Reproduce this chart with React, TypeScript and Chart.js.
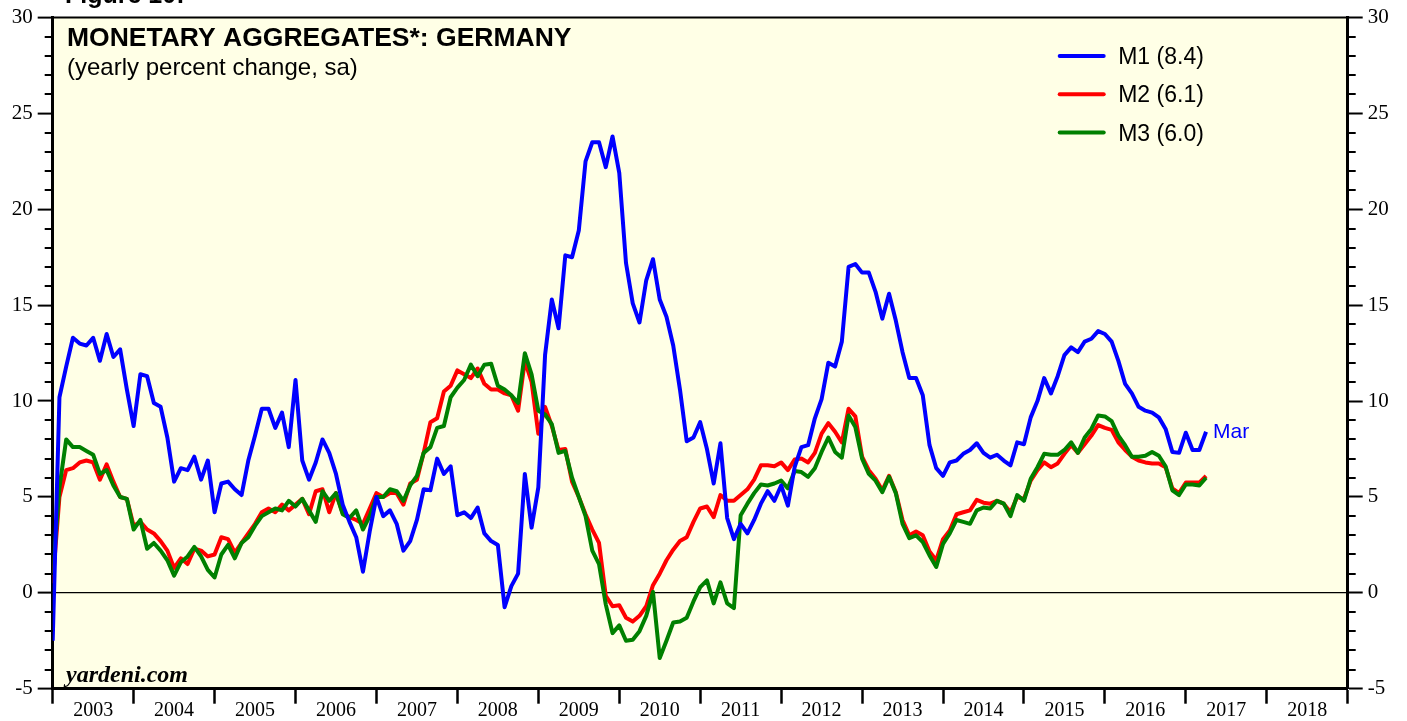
import React, { useEffect, useRef } from 'react';
import { Chart, registerables } from 'chart.js';

Chart.register(...registerables);

// ---------- data ----------
// Monthly observations, Dec 2002 .. Mar 2017, plotted at month end (first point = 2003.0)
const FIRST_POINT_YEAR = 2003;
const X_MIN = 2003;
const X_MAX = 2019;
const YEAR_LABELS = [2003, 2004, 2005, 2006, 2007, 2008, 2009, 2010, 2011, 2012, 2013, 2014, 2015, 2016, 2017, 2018];
const Y_MIN = -5;
const Y_MAX = 30;
const Y_MAJOR_STEP = 5;

const M1 = [
  -2.5, 10.2, 11.8, 13.3, 13.0, 12.9, 13.3, 12.1, 13.5, 12.3, 12.7, 10.6,
  8.7, 11.4, 11.3, 9.9, 9.7, 8.1, 5.8, 6.5, 6.4, 7.1, 5.9, 6.9,
  4.2, 5.7, 5.8, 5.4, 5.1, 6.9, 8.2, 9.6, 9.6, 8.6, 9.4, 7.6,
  11.1, 6.9, 5.9, 6.8, 8.0, 7.3, 6.2, 4.6, 3.7, 2.9, 1.1, 3.2,
  5.0, 4.0, 4.3, 3.6, 2.2, 2.7, 3.8, 5.4, 5.35, 7.0, 6.2, 6.6,
  4.05, 4.2, 3.9, 4.45, 3.1, 2.7, 2.5, -0.75, 0.35, 1.0, 6.2, 3.4,
  5.5, 12.4, 15.3, 13.8, 17.6, 17.5, 18.9, 22.5, 23.5, 23.5, 22.2, 23.8,
  21.9, 17.2, 15.1, 14.1, 16.3, 17.4, 15.3, 14.4, 12.9, 10.6, 7.9, 8.1,
  8.9, 7.5, 5.7, 7.8, 3.9, 2.8, 3.6, 3.1, 3.8, 4.65, 5.3, 4.8,
  5.6, 4.55, 6.55, 7.6, 7.7, 9.1, 10.1, 12.0, 11.8, 13.1, 17.0, 17.15,
  16.7, 16.7, 15.7, 14.3, 15.6, 14.2, 12.55, 11.2, 11.2, 10.3, 7.7, 6.5,
  6.1, 6.8, 6.9, 7.25, 7.45, 7.8, 7.3, 7.05, 7.2, 6.9, 6.65, 7.85,
  7.75, 9.15, 10.0, 11.2, 10.4, 11.3, 12.4, 12.8, 12.55, 13.1, 13.25, 13.65,
  13.5, 13.1, 12.1, 10.9, 10.4, 9.7, 9.5, 9.4, 9.15, 8.55, 7.35, 7.3,
  8.35, 7.45, 7.45, 8.4,
];

const M2 = [
  0.5, 5.0, 6.4, 6.5, 6.8, 6.9, 6.8, 5.9, 6.7, 5.8, 5.0, 4.9,
  3.5, 3.7, 3.3, 3.1, 2.7, 2.2, 1.3, 1.8, 1.5, 2.3, 2.2, 1.9,
  2.0, 2.9, 2.8, 2.1, 2.6, 3.1, 3.6, 4.2, 4.4, 4.2, 4.6, 4.3,
  4.6, 4.9, 4.1, 5.3, 5.4, 4.2, 5.2, 4.15, 3.95, 3.8, 3.6, 4.4,
  5.2, 5.0, 5.2, 5.2, 4.6, 5.7, 5.9, 7.3, 8.9, 9.1, 10.5, 10.8,
  11.6, 11.4, 11.2, 11.7, 10.9, 10.6, 10.6, 10.4, 10.3, 9.5, 12.1, 11.0,
  8.3, 9.7, 8.7, 7.45, 7.5, 5.8, 5.0, 4.1, 3.3, 2.6, -0.15, -0.7,
  -0.65, -1.3, -1.5, -1.2, -0.7, 0.4, 1.0, 1.7, 2.25, 2.7, 2.9, 3.7,
  4.4, 4.5, 3.95, 5.1, 4.8, 4.8, 5.1, 5.4, 5.9, 6.65, 6.65, 6.6,
  6.8, 6.4, 6.95, 7.0, 6.8, 7.3, 8.3, 8.85, 8.4, 7.85, 9.6, 9.2,
  7.1, 6.4, 5.95, 5.35, 6.1, 5.25, 3.8, 3.0, 3.2, 3.0, 2.15, 1.7,
  2.8, 3.25, 4.1, 4.2, 4.3, 4.85, 4.7, 4.65, 4.8, 4.65, 4.2, 5.0,
  4.9, 5.85, 6.4, 6.8, 6.55, 6.75, 7.25, 7.7, 7.3, 7.75, 8.2, 8.75,
  8.6, 8.5, 7.85, 7.45, 7.1, 6.9, 6.8, 6.75, 6.75, 6.55, 5.45, 5.2,
  5.75, 5.75, 5.75, 6.1,
];

const M3 = [
  0.9, 5.5, 8.0, 7.6, 7.6, 7.4, 7.2, 6.2, 6.4, 5.6, 5.0, 4.9,
  3.3, 3.8, 2.3, 2.6, 2.2, 1.7, 0.9, 1.6, 1.9, 2.4, 1.9, 1.2,
  0.8, 2.0, 2.5, 1.8, 2.6, 2.9, 3.5, 4.0, 4.2, 4.4, 4.3, 4.8,
  4.5, 4.9, 4.3, 3.7, 5.3, 4.8, 5.2, 4.1, 3.9, 4.3, 3.3, 4.0,
  5.0, 5.0, 5.4, 5.3, 4.8, 5.6, 6.1, 7.3, 7.6, 8.6, 8.7, 10.2,
  10.7, 11.1, 11.9, 11.3, 11.9, 11.95, 10.8, 10.6, 10.3, 9.9, 12.5, 11.4,
  9.5, 9.3, 8.8, 7.3, 7.4, 6.0, 5.0, 4.0, 2.2, 1.5, -0.6, -2.1,
  -1.7, -2.5, -2.45, -2.0, -1.2, 0.05, -3.4, -2.5, -1.55, -1.5, -1.3, -0.45,
  0.3, 0.65, -0.55, 0.55, -0.55, -0.8, 4.05, 4.65, 5.2, 5.65, 5.6, 5.7,
  5.85, 5.45, 6.35, 6.3, 6.05, 6.5, 7.35, 8.1, 7.35, 7.05, 9.25, 8.65,
  7.0, 6.2, 5.85, 5.25, 6.05, 5.2, 3.6, 2.85, 3.0, 2.65, 1.95, 1.35,
  2.55, 3.1, 3.8, 3.7, 3.6, 4.3, 4.45, 4.4, 4.8, 4.65, 4.0, 5.1,
  4.8, 5.95, 6.55, 7.25, 7.2, 7.2, 7.45, 7.85, 7.3, 8.1, 8.55, 9.25,
  9.2, 8.95, 8.2, 7.7, 7.1, 7.1, 7.15, 7.35, 7.15, 6.6, 5.35, 5.1,
  5.65, 5.65, 5.6, 6.0,
];

const SERIES_LABELS = ['M1 (8.4)', 'M2 (6.1)', 'M3 (6.0)'];
const SERIES_COLORS = ['#0000FF', '#FF0000', '#008000'];
const TITLE = 'MONETARY AGGREGATES*: GERMANY';
const SUBTITLE = '(yearly percent change, sa)';
const LAST_LABEL = 'Mar';
const SOURCE = 'yardeni.com';
const FIGURE = 'Figure 10:';

// ---------- styling ----------
const PLOT_BG = '#FFFFE6';
const SANS = '"Liberation Sans", Arial, Helvetica, sans-serif';
const SERIF = '"Liberation Serif", "Times New Roman", Times, serif';

const X_TICKS: number[] = [];
YEAR_LABELS.forEach((yr) => {
  X_TICKS.push(yr);
  X_TICKS.push(yr + 0.5);
});
X_TICKS.push(X_MAX);

const toPoints = (vals: number[]) => vals.map((y, i) => ({ x: FIRST_POINT_YEAR + i / 12, y }));

const decorPlugin = {
  id: 'decor',
  beforeDraw(chart: any) {
    const { ctx, chartArea: a } = chart;
    ctx.save();
    ctx.fillStyle = PLOT_BG;
    ctx.fillRect(a.left, a.top, a.right - a.left, a.bottom - a.top);
    ctx.restore();
  },
  afterDraw(chart: any) {
    const { ctx, chartArea: a, scales } = chart;
    const yS = scales.y;
    const xS = scales.x;
    ctx.save();

    // top frame line
    ctx.strokeStyle = '#000';
    ctx.lineWidth = 2;
    ctx.beginPath();
    ctx.moveTo(a.left - 1.5, a.top);
    ctx.lineTo(a.right + 1.5, a.top);
    ctx.stroke();

    // minor ticks on both vertical axes
    ctx.lineWidth = 2;
    for (let v = Y_MIN; v <= Y_MAX; v++) {
      if (v % Y_MAJOR_STEP === 0) continue;
      const py = Math.round(yS.getPixelForValue(v));
      ctx.beginPath();
      ctx.moveTo(a.left - 8, py);
      ctx.lineTo(a.left, py);
      ctx.moveTo(a.right, py);
      ctx.lineTo(a.right + 8, py);
      ctx.stroke();
    }

    // title and subtitle
    ctx.fillStyle = '#000';
    ctx.textAlign = 'left';
    ctx.textBaseline = 'alphabetic';
    ctx.font = `bold 26.5px ${SANS}`;
    ctx.fillText(TITLE, a.left + 14.3, a.top + 28.3);
    ctx.font = `24px ${SANS}`;
    ctx.fillText(SUBTITLE, a.left + 14.3, a.top + 57.3);

    // figure caption cut off at top
    ctx.font = `bold 25px ${SANS}`;
    ctx.fillText(FIGURE, 65, 3);

    // source
    ctx.font = `italic bold 24px ${SERIF}`;
    ctx.fillText(SOURCE, a.left + 13.3, a.bottom - 7);

    // legend
    const legendRows = [a.top + 38.3, a.top + 76.6, a.top + 115];
    ctx.font = `23px ${SANS}`;
    SERIES_LABELS.forEach((lab, i) => {
      const ly = legendRows[i];
      ctx.strokeStyle = SERIES_COLORS[i];
      ctx.lineWidth = 4;
      ctx.lineCap = 'round';
      ctx.beginPath();
      ctx.moveTo(a.right - 288, ly);
      ctx.lineTo(a.right - 244, ly);
      ctx.stroke();
      ctx.fillStyle = '#000';
      ctx.fillText(lab, a.right - 229.5, ly + 8);
    });

    // last-value label on M1
    const lastIdx = M1.length - 1;
    const px = xS.getPixelForValue(FIRST_POINT_YEAR + lastIdx / 12);
    const py = yS.getPixelForValue(M1[lastIdx]);
    ctx.fillStyle = SERIES_COLORS[0];
    ctx.font = `21px ${SANS}`;
    ctx.textBaseline = 'middle';
    ctx.fillText(LAST_LABEL, px + 7, py);

    ctx.restore();
  },
};

export default function App() {
  const canvasRef = useRef<HTMLCanvasElement>(null);

  useEffect(() => {
    const canvas = canvasRef.current;
    if (!canvas) return;

    const mkSet = (i: number, vals: number[], order: number) => ({
      label: SERIES_LABELS[i],
      data: toPoints(vals),
      borderColor: SERIES_COLORS[i],
      backgroundColor: SERIES_COLORS[i],
      borderWidth: 4,
      pointRadius: 0,
      tension: 0,
      borderJoinStyle: 'round' as const,
      order,
    });

    const yTicksFont = { family: SERIF, size: 21 };

    const chart = new Chart(canvas, {
      type: 'line',
      data: {
        datasets: [mkSet(0, M1, 0), mkSet(1, M2, 2), mkSet(2, M3, 1)],
      },
      options: {
        animation: false,
        responsive: false,
        maintainAspectRatio: false,
        devicePixelRatio: 1,
        events: [],
        layout: { padding: { top: 16.7, left: 0, right: 0, bottom: 0 } },
        plugins: {
          legend: { display: false },
          tooltip: { enabled: false },
          title: { display: false },
        },
        scales: {
          x: {
            type: 'linear',
            position: 'bottom',
            min: X_MIN,
            max: X_MAX,
            afterBuildTicks: (scale: any) => {
              scale.ticks = X_TICKS.map((v) => ({ value: v }));
            },
            afterFit: (scale: any) => {
              scale.height = 32.3;
            },
            ticks: {
              autoSkip: false,
              maxRotation: 0,
              minRotation: 0,
              padding: -3,
              color: '#000',
              font: { family: SERIF, size: 20, lineHeight: 1 },
              callback: (value: any) => (Number.isInteger(value) ? '' : String(Math.floor(value))),
            },
            grid: {
              display: true,
              drawOnChartArea: false,
              drawTicks: true,
              tickLength: 15,
              tickWidth: 2.5,
              tickColor: (ctx: any) => (ctx.tick && Number.isInteger(ctx.tick.value) ? '#000' : 'rgba(0,0,0,0)'),
            },
            border: { display: true, color: '#000', width: 3 },
          },
          y: {
            type: 'linear',
            position: 'left',
            min: Y_MIN,
            max: Y_MAX,
            afterFit: (scale: any) => {
              scale.width = 52.7;
            },
            ticks: {
              stepSize: Y_MAJOR_STEP,
              color: '#000',
              padding: 5,
              font: yTicksFont,
            },
            grid: {
              display: true,
              drawOnChartArea: true,
              drawTicks: true,
              tickLength: 15,
              tickWidth: 2,
              lineWidth: 1.2,
              tickColor: '#000',
              color: (ctx: any) => (ctx.tick && ctx.tick.value === 0 ? '#000' : 'rgba(0,0,0,0)'),
            },
            border: { display: true, color: '#000', width: 3 },
          },
          yR: {
            type: 'linear',
            position: 'right',
            min: Y_MIN,
            max: Y_MAX,
            afterFit: (scale: any) => {
              scale.width = 59.3;
            },
            ticks: {
              stepSize: Y_MAJOR_STEP,
              color: '#000',
              padding: 5,
              font: yTicksFont,
            },
            grid: {
              display: true,
              drawOnChartArea: false,
              drawTicks: true,
              tickLength: 15,
              tickWidth: 2,
              tickColor: '#000',
            },
            border: { display: true, color: '#000', width: 3 },
          },
        },
      } as any,
      plugins: [decorPlugin],
    });

    return () => chart.destroy();
  }, []);

  return (
    <div style={{ position: 'absolute', left: 0, top: 0, width: 1407, height: 721, background: '#fff' }}>
      <canvas ref={canvasRef} width={1407} height={721} style={{ display: 'block', width: 1407, height: 721 }} />
    </div>
  );
}
